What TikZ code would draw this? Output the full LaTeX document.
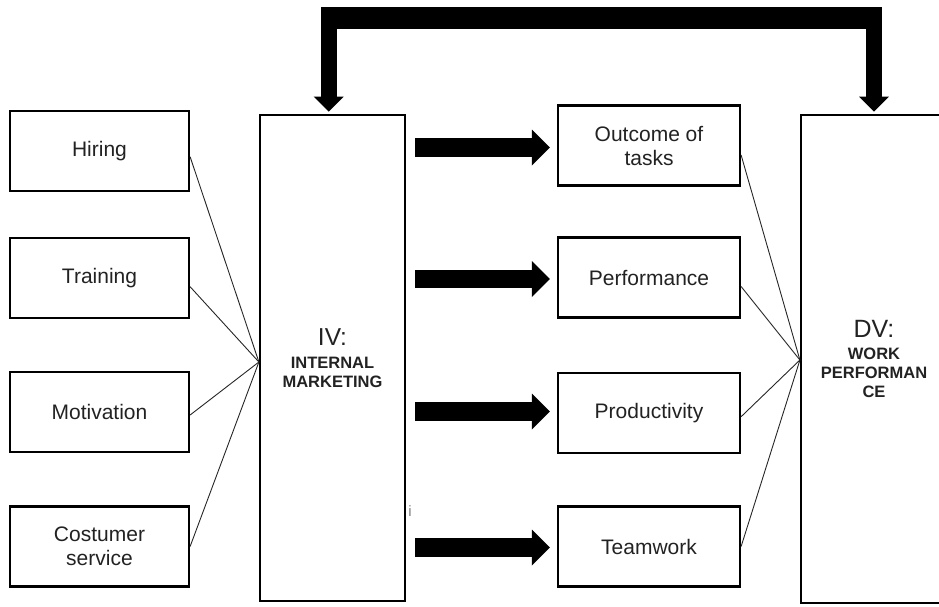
\documentclass[tikz,border=0pt]{standalone}
\usepackage{fontspec}
\setmainfont{Liberation Sans}
\usetikzlibrary{calc,arrows.meta}
\definecolor{txt}{HTML}{222222}
\begin{document}
\begin{tikzpicture}[x=1pt,y=-1pt,
  box/.style={draw, line width=2.2pt, inner sep=0pt, align=center, text=txt,
    font=\fontsize{21}{24}\selectfont},
  sidebox/.style={box, minimum width=179pt, minimum height=80pt},
  midbox/.style={box, minimum width=182pt, minimum height=80pt},
  bigbox/.style={box, font=\bfseries\fontsize{16.5}{19.2}\selectfont},
  thinline/.style={line width=0.9pt, draw=black!85},
  bigarrow/.style={line width=18.5pt,
    -{Triangle[length=18pt 0 0, width=36pt 0 0, line width=0pt 0 0]}},
  stemarrow/.style={line width=16pt,
    -{Triangle[length=15pt 0 0, width=30pt 0 0, line width=0pt 0 0]}}
]
\useasboundingbox (0,0) rectangle (939,606);

% left column
\node[sidebox] (hiring) at (99.5,151) {Hiring};
\node[sidebox] (training) at (99.5,278) {Training};
\node[sidebox] (motivation) at (99.5,412) {Motivation};
\node[sidebox] (costumer) at (99.5,546.5) {Costumer\\service};

% IV box
\node[bigbox, minimum width=145pt, minimum height=486pt] (iv) at (332.5,358)
  {{\mdseries\fontsize{24.5}{19.2}\selectfont IV:}\\[3.4pt]INTERNAL\\MARKETING};

% middle column
\node[midbox] (outcome) at (649,145.5) {Outcome of\\tasks};
\node[midbox] (performance) at (649,277.5) {Performance};
\node[midbox] (productivity) at (649,413) {Productivity};
\node[midbox] (teamwork) at (649,546.5) {Teamwork};

% DV box
\node[bigbox, minimum width=146pt, minimum height=488pt] (dv) at (874,359)
  {{\mdseries\fontsize{25}{19.2}\selectfont DV:}\\[2.7pt]WORK\\PERFORMAN\\CE};

% small mark
\node[font=\fontsize{15}{15}\selectfont, text=gray, inner sep=0pt] (imark) at (410,511) {i};

% convergence points
\coordinate (ivin) at ($(iv.west)+(0,4)$);
\coordinate (dvin) at ($(dv.west)+(0,1)$);

% thin lines into IV
\draw[thinline] ($(hiring.east)+(0,5.7)$) -- (ivin);
\draw[thinline] ($(training.east)+(0,8.7)$) -- (ivin);
\draw[thinline] ($(motivation.east)+(0,3)$) -- (ivin);
\draw[thinline] (costumer.east) -- (ivin);

% thin lines into DV
\draw[thinline] ($(outcome.east)+(0,9.5)$) -- (dvin);
\draw[thinline] ($(performance.east)+(0,9)$) -- (dvin);
\draw[thinline] ($(productivity.east)+(0,3.7)$) -- (dvin);
\draw[thinline] (teamwork.east) -- (dvin);

% thick arrows IV -> middle
\draw[bigarrow] ($(iv.east |- outcome.west)+(9,2)$) -- ($(outcome.west)+(-7,2)$);
\draw[bigarrow] ($(iv.east |- performance.west)+(9,1.5)$) -- ($(performance.west)+(-7,1.5)$);
\draw[bigarrow] ($(iv.east |- productivity.west)+(9,-1.5)$) -- ($(productivity.west)+(-7,-1.5)$);
\draw[bigarrow] ($(iv.east |- teamwork.west)+(9,1)$) -- ($(teamwork.west)+(-7,1)$);

% feedback arrow on top
\coordinate (tl) at ($(iv.north)+(-3.8,-2.3)$);
\coordinate (tr) at ($(dv.north)+(0,-2.3)$);
\fill[black] ($(tl)+(-7.7,-104.7)$) rectangle ($(tr)+(8,-82.7)$);
\draw[stemarrow] ($(tl)+(0,-100)$) -- (tl);
\draw[stemarrow] ($(tr)+(0,-100)$) -- (tr);
\end{tikzpicture}
\end{document}
